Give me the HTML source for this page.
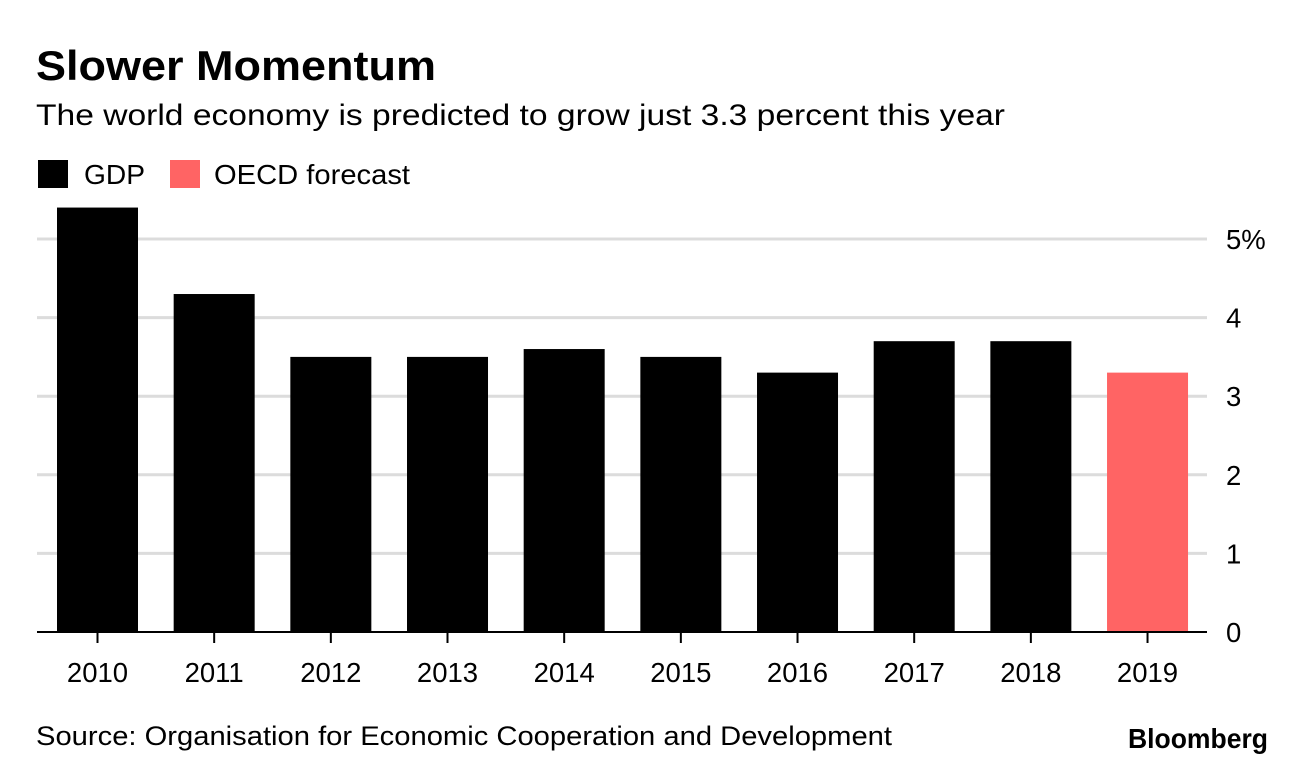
<!DOCTYPE html>
<html><head><meta charset="utf-8">
<style>
body{margin:0;background:#fff;font-family:"Liberation Sans",Arial,sans-serif;}
#wrap{position:relative;width:1296px;height:768px;overflow:hidden;}
</style></head>
<body>
<div id="wrap">
<svg id="chart" width="1296" height="768">
<text x="36" y="80" font-size="42" font-weight="bold" fill="#000" textLength="400" lengthAdjust="spacingAndGlyphs">Slower Momentum</text>
<text x="36" y="125" font-size="30" fill="#000" textLength="969" lengthAdjust="spacingAndGlyphs">The world economy is predicted to grow just 3.3 percent this year</text>
<rect x="38" y="160" width="30" height="28" fill="#000"/>
<text x="84" y="184" font-size="28" textLength="61" lengthAdjust="spacingAndGlyphs">GDP</text>
<rect x="170" y="160" width="30" height="28" fill="#ff6464"/>
<text x="214" y="184" font-size="28" textLength="196" lengthAdjust="spacingAndGlyphs">OECD forecast</text>
<g id="grid"></g><g id="bars"></g><g id="xaxis"></g><g id="yaxis"></g>
<text x="36" y="745" font-size="27" textLength="856" lengthAdjust="spacingAndGlyphs">Source: Organisation for Economic Cooperation and Development</text>
<text x="1128" y="748" font-size="28" font-weight="bold" textLength="140" lengthAdjust="spacingAndGlyphs">Bloomberg</text>
</svg>
</div>
<script>
const categories=["2010","2011","2012","2013","2014","2015","2016","2017","2018","2019"];
const values=[5.4,4.3,3.5,3.5,3.6,3.5,3.3,3.7,3.7,3.3];
const forecast=[false,false,false,false,false,false,false,false,false,true];
const yTicks=[0,1,2,3,4,5];
const yTickLabels=["0","1","2","3","4","5%"];
const NS="http://www.w3.org/2000/svg";
const y0=632,unit=78.6;
function yScale(v){return y0-v*unit;}
const firstLeft=57,step=116.67,bw=81;
function xScale(i){return firstLeft+i*step;}
function mk(tag,attrs,parent){const e=document.createElementNS(NS,tag);for(const k in attrs)e.setAttribute(k,attrs[k]);parent.appendChild(e);return e;}
const grid=document.getElementById('grid'),bars=document.getElementById('bars'),xa=document.getElementById('xaxis'),ya=document.getElementById('yaxis');
yTicks.forEach((t,i)=>{
  if(t>0){const l=mk('line',{x1:37,x2:1207,y1:yScale(t),y2:yScale(t),stroke:'#dcdcdc','stroke-width':3},grid);
  
  }
  const tx=mk('text',{x:1226,y:yScale(t)+10,'font-size':27.5},ya);
  tx.textContent=yTickLabels[i];
  
  
});
categories.forEach((c,i)=>{
  const r=mk('rect',{x:xScale(i),y:yScale(values[i]),width:bw,height:values[i]*unit,fill:forecast[i]?'#ff6464':'#000'},bars);
  
  
  const cx=xScale(i)+bw/2;
  const tk=mk('line',{x1:cx,x2:cx,y1:y0,y2:y0+11,stroke:'#000','stroke-width':2},xa);
  
  
  const t=mk('text',{x:cx,y:682,'font-size':27.5,'text-anchor':'middle'},xa);
  t.textContent=c;
  
  
});
const ax=mk('line',{x1:37,x2:1207,y1:y0,y2:y0,stroke:'#000','stroke-width':2},xa);


</script>
</body></html>
